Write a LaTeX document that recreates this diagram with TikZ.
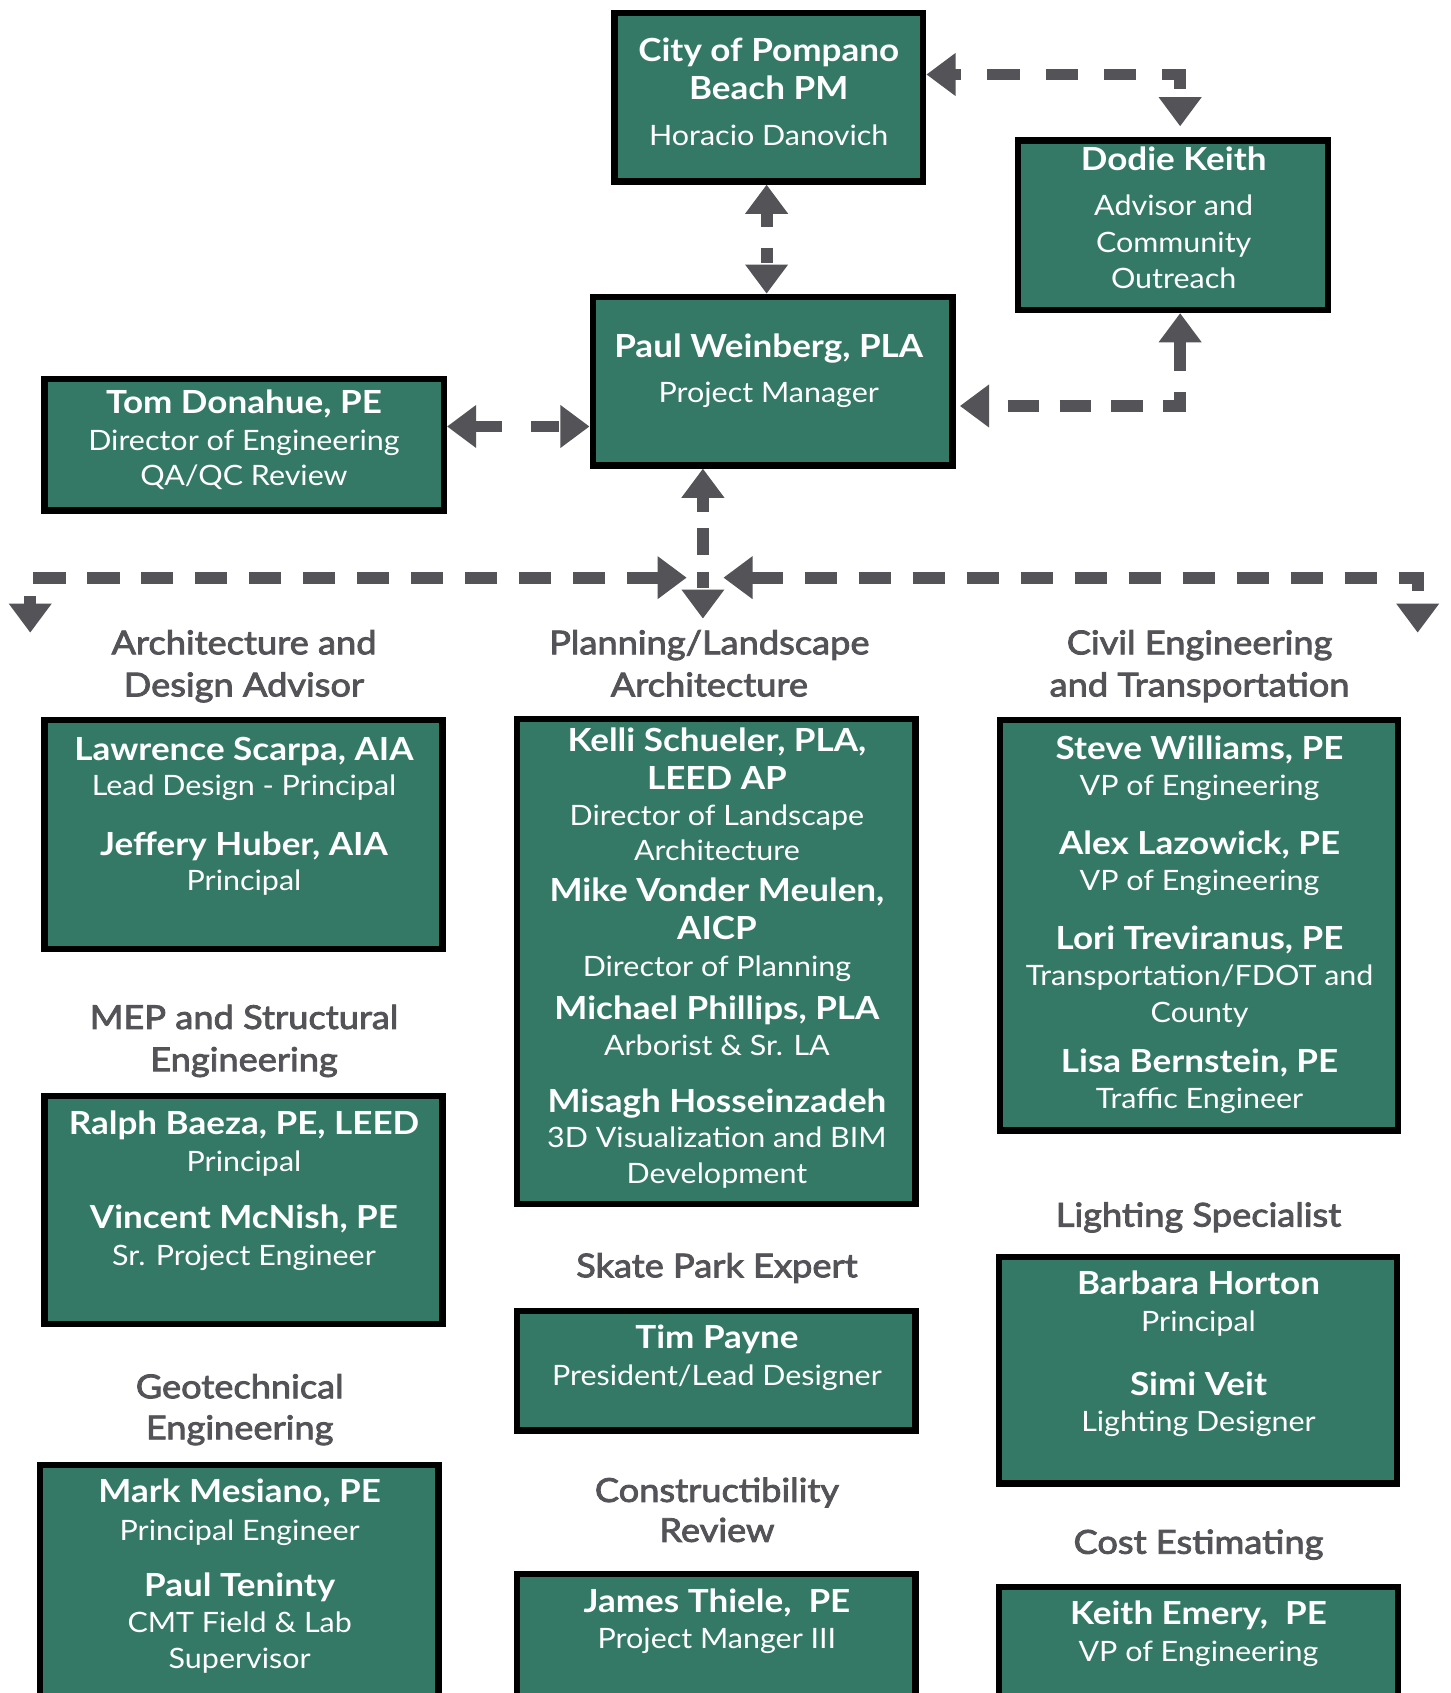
\documentclass[tikz,border=0pt]{standalone}
\usepackage{fontspec}
\setmainfont{Lato}[FakeStretch=1.1]
\newfontfamily\rolefont{Lato}[FakeStretch=1.085]
\newfontfamily\hdrfont{Lato}[FakeStretch=1.1,FakeBold=2.6]
\usetikzlibrary{arrows.meta,calc}
\definecolor{boxgreen}{HTML}{347965}
\definecolor{linkgray}{HTML}{535358}
\tikzset{
  gbox/.style={rectangle, draw=black, line width=6pt, fill=boxgreen, outer sep=3pt, inner sep=0pt},
  nm/.style={text=white, font=\fontsize{29.5}{32}\selectfont\bfseries, anchor=base, inner sep=0pt},
  rl/.style={text=white, font=\rolefont\fontsize{26}{30}\selectfont, anchor=base, inner sep=0pt},
  hd/.style={text=linkgray, font=\hdrfont\fontsize{30.5}{34}\selectfont, anchor=base, inner sep=0pt},
  conn/.style={draw=linkgray, line width=11pt,
    {Triangle[width=38pt,length=27pt]}-{Triangle[width=38pt,length=27pt]}},
}
\newcommand\gbox[5]{%
  \pgfmathsetmacro\bw{#4-#2-6}\pgfmathsetmacro\bh{#5-#3-6}%
  \node[gbox, minimum width=\bw pt, minimum height=\bh pt] (#1) at ({(#2+#4)/2},{(#3+#5)/2}) {};}
\newcommand\tl[5]{\node[#1] (#2) at (#3,{#4+10}) {#5};}
\begin{document}
\begin{tikzpicture}[x=1pt,y=-1pt]
\useasboundingbox (0,0) rectangle (1343,1568);
\clip (0,0) rectangle (1343,1568);
% boxes
\gbox{city}{566}{9}{858}{171}
\gbox{dodie}{940}{127}{1233}{290}
\gbox{paul}{546}{272}{885}{434}
\gbox{tom}{38}{348}{414}{476}
\gbox{lawrence}{38}{664}{413}{882}
\gbox{kelli}{476}{663}{851}{1118}
\gbox{steve}{923}{664}{1298}{1050}
\gbox{ralph}{38}{1012}{413}{1229}
\gbox{tim}{476}{1211}{851}{1328}
\gbox{barbara}{922}{1161}{1297}{1377}
\gbox{mark}{34}{1354}{409}{1620}
\gbox{james}{476}{1455}{851}{1620}
\gbox{keith}{922}{1467}{1298}{1620}
% top texts
\tl{nm}{c1}{712}{47}{City of Pompano}
\tl{nm}{c2}{712}{82}{Beach PM}
\tl{rl}{c3}{712}{125}{Horacio Danovich}
\tl{nm}{d1}{1087}{148}{Dodie Keith}
\tl{rl}{d2}{1087}{190}{Advisor and}
\tl{rl}{d3}{1087}{224}{Community}
\tl{rl}{d4}{1087}{257}{Outreach}
\tl{nm}{p1}{712}{321}{Paul Weinberg, PLA}
\tl{rl}{p2}{712}{363}{Project Manager}
\tl{nm}{t1}{226}{373}{Tom Donahue, PE}
\tl{rl}{t2}{226}{407}{Director of Engineering}
\tl{rl}{t3}{226}{440}{QA/QC Review}
% headers
\tl{hd}{hA1}{226}{596}{Architecture and}
\tl{hd}{hA2}{226}{635}{Design Advisor}
\tl{hd}{hP1}{657}{596}{Planning/Landscape}
\tl{hd}{hP2}{657}{635}{Architecture}
\tl{hd}{hC1}{1111}{596}{Civil Engineering}
\tl{hd}{hC2}{1111}{635}{and Transportation}
\tl{hd}{hM1}{226}{943}{MEP and Structural}
\tl{hd}{hM2}{226}{982}{Engineering}
\tl{hd}{hS}{664}{1173}{Skate Park Expert}
\tl{hd}{hL}{1110}{1126}{Lighting Specialist}
\tl{hd}{hG1}{222}{1285}{Geotechnical}
\tl{hd}{hG2}{222}{1323}{Engineering}
\tl{hd}{hK1}{664}{1381}{Constructibility}
\tl{hd}{hK2}{664}{1418}{Review}
\tl{hd}{hE}{1110}{1429}{Cost Estimating}
% Lawrence box
\tl{nm}{l1}{226}{694}{Lawrence Scarpa, AIA}
\tl{rl}{l2}{226}{727}{Lead Design - Principal}
\tl{nm}{l3}{226}{782}{Jeffery Huber, AIA}
\tl{rl}{l4}{226}{815}{Principal}
% Kelli box
\tl{nm}{k1}{664}{686}{Kelli Schueler, PLA,}
\tl{nm}{k2}{664}{721}{LEED AP}
\tl{rl}{k3}{664}{755}{Director of Landscape}
\tl{rl}{k4}{664}{787}{Architecture}
\tl{nm}{k5}{664}{825}{Mike Vonder Meulen,}
\tl{nm}{k6}{664}{860}{AICP}
\tl{rl}{k7}{664}{894}{Director of Planning}
\tl{nm}{k8}{664}{934}{Michael Phillips, PLA}
\tl{rl}{k9}{664}{968}{Arborist \& Sr. LA}
\tl{nm}{k10}{664}{1020}{Misagh Hosseinzadeh}
\tl{rl}{k11}{664}{1053}{3D Visualization and BIM}
\tl{rl}{k12}{664}{1086}{Development}
% Steve box
\tl{nm}{s1}{1111}{693}{Steve Williams, PE}
\tl{rl}{s2}{1111}{727}{VP of Engineering}
\tl{nm}{s3}{1111}{781}{Alex Lazowick, PE}
\tl{rl}{s4}{1111}{815}{VP of Engineering}
\tl{nm}{s5}{1111}{869}{Lori Treviranus, PE}
\tl{rl}{s6}{1111}{903}{Transportation/FDOT and}
\tl{rl}{s7}{1111}{937}{County}
\tl{nm}{s8}{1111}{983}{Lisa Bernstein, PE}
\tl{rl}{s9}{1111}{1017}{Traffic Engineer}
% Ralph box
\tl{nm}{r1}{226}{1041}{Ralph Baeza, PE, LEED}
\tl{rl}{r2}{226}{1075}{Principal}
\tl{nm}{r3}{226}{1128}{Vincent McNish, PE}
\tl{rl}{r4}{226}{1162}{Sr. Project Engineer}
% Tim box
\tl{nm}{tp1}{664}{1239}{Tim Payne}
\tl{rl}{tp2}{664}{1273}{President/Lead Designer}
% Barbara box
\tl{nm}{b1}{1110}{1189}{Barbara Horton}
\tl{rl}{b2}{1110}{1223}{Principal}
\tl{nm}{b3}{1110}{1282}{Simi Veit}
\tl{rl}{b4}{1110}{1316}{Lighting Designer}
% Mark box
\tl{nm}{m1}{222}{1382}{Mark Mesiano, PE}
\tl{rl}{m2}{222}{1417}{Principal Engineer}
\tl{nm}{m3}{222}{1469}{Paul Teninty}
\tl{rl}{m4}{222}{1502}{CMT Field \& Lab}
\tl{rl}{m5}{222}{1535}{Supervisor}
% James box
\tl{nm}{j1}{664}{1483}{James Thiele,\ \ PE}
\tl{rl}{j2}{664}{1517}{Project Manger III}
% Keith box
\tl{nm}{e1}{1110}{1495}{Keith Emery,\ \ PE}
\tl{rl}{e2}{1110}{1529}{VP of Engineering}
% coordinates
\coordinate (tp) at (0,395);
\coordinate (hub) at (651,535);
\coordinate (hubdown) at (651,573);
\coordinate (lefttip) at (636,535);
\coordinate (leftend) at (28,586);
\coordinate (righttip) at (670,535);
\coordinate (rightend) at (1313,586);
% connectors
\draw[conn, dash pattern=on 30pt off 24pt, dash phase=23pt]
  ([yshift=21pt]city.east) -| ([xshift=6.5pt,yshift=10pt]dodie.north);
\draw[conn, dash pattern=on 29pt off 19pt, dash phase=29pt]
  ([xshift=4pt,yshift=-23pt]paul.east) -| ([xshift=6.5pt]dodie.south);
\draw[conn, dash pattern=on 14pt off 19pt]
  ([xshift=-2pt]city.south) -- ([xshift=-2pt]city.south |- paul.north);
\draw[conn, dash pattern=on 25.5pt off 27pt]
  (tom.east |- tp) -- (paul.west |- tp);
\draw[conn, dash pattern=on 15pt off 15pt on 25pt off 15pt]
  (paul.south -| hub) -- (hubdown);
\draw[conn, dash pattern=on 30pt off 20pt] (lefttip) -| (leftend);
\draw[conn, dash pattern=on 30pt off 20pt] (righttip) -| (rightend);
\end{tikzpicture}
\end{document}
